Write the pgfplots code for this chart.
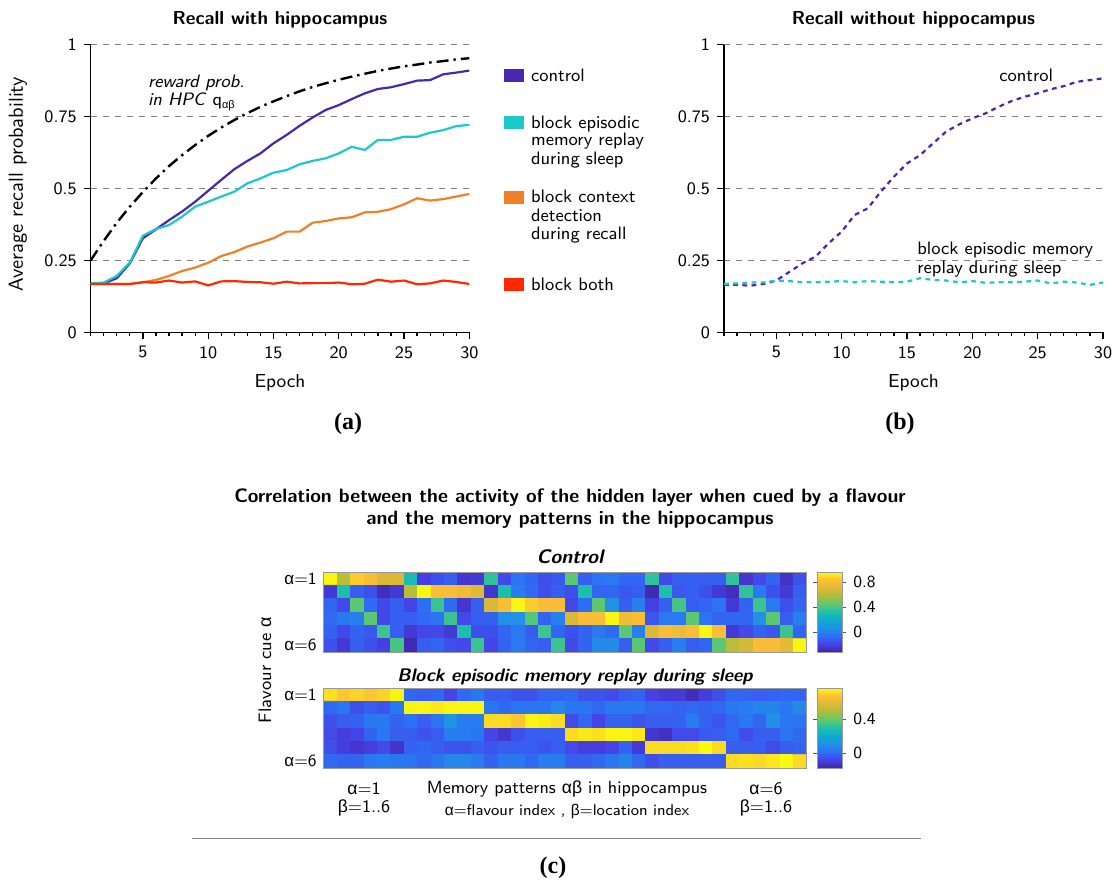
\documentclass[border=0pt]{standalone}
\usepackage{fontspec}
\usepackage{pgfplots}
\usepackage{pgfplotstable}
\pgfplotsset{compat=1.18}
\renewcommand\familydefault{\sfdefault}
\newfontfamily\grk{Liberation Sans}
\newfontfamily\serifb{Liberation Serif}
\newcommand\ga{{\grk α}}
\newcommand\gb{{\grk β}}
\newcommand\fsz[2]{\fontsize{#1}{#2}\selectfont}
\definecolor{cctrl}{RGB}{72,38,178}
\definecolor{ccyan}{RGB}{28,200,200}
\definecolor{corange}{RGB}{240,128,40}
\definecolor{cred}{RGB}{255,40,0}
\pgfplotsset{colormap={parula}{rgb255=(62,38,168) rgb255=(71,65,230) rgb255=(45,112,245) rgb255=(33,145,228) rgb255=(15,170,210) rgb255=(30,190,175) rgb255=(95,200,110) rgb255=(170,190,60) rgb255=(220,185,55) rgb255=(253,190,55) rgb255=(249,251,14)}}

\pgfplotstableread{
e ctrl rep ctx both hpc
1 0.170 0.170 0.168 0.168 0.250
2 0.170 0.173 0.168 0.168 0.318
3 0.188 0.196 0.168 0.168 0.381
4 0.240 0.243 0.168 0.168 0.437
5 0.327 0.336 0.174 0.174 0.488
6 0.358 0.359 0.182 0.173 0.535
7 0.390 0.373 0.196 0.180 0.578
8 0.420 0.402 0.213 0.173 0.616
9 0.454 0.437 0.225 0.177 0.651
10 0.492 0.454 0.242 0.163 0.683
11 0.530 0.472 0.265 0.177 0.712
12 0.567 0.489 0.279 0.178 0.738
13 0.596 0.518 0.298 0.175 0.762
14 0.622 0.535 0.312 0.174 0.784
15 0.657 0.555 0.327 0.169 0.803
16 0.686 0.564 0.350 0.176 0.821
17 0.718 0.584 0.350 0.170 0.838
18 0.747 0.596 0.381 0.171 0.853
19 0.773 0.605 0.387 0.171 0.866
20 0.790 0.622 0.396 0.173 0.878
21 0.811 0.645 0.400 0.167 0.889
22 0.831 0.634 0.417 0.169 0.899
23 0.846 0.669 0.419 0.183 0.909
24 0.852 0.669 0.428 0.176 0.917
25 0.863 0.680 0.445 0.180 0.925
26 0.875 0.680 0.466 0.167 0.931
27 0.877 0.694 0.458 0.170 0.938
28 0.897 0.703 0.463 0.180 0.943
29 0.903 0.717 0.472 0.175 0.949
30 0.910 0.721 0.481 0.168 0.953
}\dataA

\pgfplotstableread{
e ctrl rep
1 0.165 0.168
2 0.165 0.170
3 0.162 0.173
4 0.168 0.173
5 0.180 0.180
6 0.210 0.178
7 0.240 0.174
8 0.263 0.174
9 0.309 0.176
10 0.350 0.178
11 0.408 0.174
12 0.431 0.178
13 0.489 0.176
14 0.541 0.174
15 0.587 0.176
16 0.616 0.188
17 0.657 0.182
18 0.698 0.180
19 0.723 0.174
20 0.744 0.178
21 0.761 0.172
22 0.784 0.174
23 0.804 0.174
24 0.819 0.176
25 0.831 0.180
26 0.845 0.170
27 0.856 0.176
28 0.871 0.173
29 0.877 0.165
30 0.883 0.173
}\dataB

\pgfplotsset{
  linechart/.style={
    scale only axis, width=189.3pt, height=143.8pt,
    xmin=1, xmax=30, ymin=0, ymax=1,
    axis x line*=bottom, axis y line*=left,
    axis line style={line width=0.7pt},
    xtick={5,10,...,30}, minor xtick={1,...,30},
    ytick={0,0.25,0.5,0.75,1}, yticklabels={0,0.25,0.5,0.75,1},
    tick align=outside, major tick length=3.5pt, minor tick length=1.6pt,
    tick style={black, line width=0.6pt},
    ymajorgrids, grid style={gray, dashed, line width=0.4pt},
    /pgf/number format/assume math mode=true,
    tick label style={font=\fsz{8.8}{10}},
    xlabel style={font=\fsz{9.4}{11}, at={(axis description cs:0.5,-0.176)}, anchor=center},
    ylabel style={font=\fsz{10.2}{11}},
    every axis title/.style={font=\bfseries\fsz{9.4}{11}, at={(axis description cs:0.5,1.086)}, anchor=center},
  },
  heat/.style={
    scale only axis, width=241.55pt, height=40pt,
    xmin=0.5, xmax=36.5, ymin=0.5, ymax=6.5, y dir=reverse,
    xtick=\empty, ytick={1,6}, yticklabels={\ga=1,\ga=6},
    major tick length=0pt, axis line style={gray!80, line width=0.5pt},
    tick label style={font=\fsz{8.5}{10}},
    enlargelimits=false, axis on top, colormap name=parula,
    colorbar,
    colorbar shift/.style={xshift=5pt},
    colorbar style={scale only axis, width=12.5pt,
      ytick={0,0.4,0.8}, yticklabels={0,0.4,0.8},
      tick align=outside, major tick length=2pt,
      axis line style={gray!80, line width=0.5pt},
      tick style={gray!70!black},
      yticklabel style={font=\fsz{8.5}{10}}},
  },
}

\begin{document}
\begin{tikzpicture}
\useasboundingbox (0,0) rectangle (557pt,440pt);

% ---------------- panel (a)
\begin{axis}[linechart, at={(45.35pt,273.85pt)}, anchor=south west,
  title={Recall with hippocampus}, xlabel={Epoch}, ylabel={Average recall probability},
  ylabel style={at={(axis description cs:-0.192,0.515)}, anchor=center}]
\addplot[black, line width=1.2pt, dash pattern=on 6pt off 2.5pt on 1.2pt off 2.5pt] table[x=e,y=hpc] {\dataA};
\addplot[cctrl, line width=1.1pt] table[x=e,y=ctrl] {\dataA};
\addplot[ccyan, line width=1.1pt] table[x=e,y=rep] {\dataA};
\addplot[corange, line width=1.1pt] table[x=e,y=ctx] {\dataA};
\addplot[cred, line width=1.1pt] table[x=e,y=both] {\dataA};
\end{axis}

\node[anchor=base west, font=\itshape\fsz{9}{10}] at (70.5pt,396pt) {reward prob.};
\node[anchor=base west, font=\fsz{9}{10}] at (70.5pt,387pt) {\textit{in HPC} q\raisebox{-1.5pt}{\fsz{5.5}{6}\ga\gb}};

% legend
\fill[cctrl] (252pt,399pt) rectangle (262pt,405.35pt);
\fill[ccyan] (252pt,375.35pt) rectangle (262pt,382pt);
\fill[corange] (252pt,338pt) rectangle (262pt,344.65pt);
\fill[cred] (252pt,294.65pt) rectangle (262pt,301pt);
\begin{scope}[every node/.style={anchor=base west, font=\fsz{9}{10}, inner sep=0pt}]
\node at (265.35pt,399.15pt) {control};
\node at (265.35pt,375.65pt) {block episodic};
\node at (265.35pt,367pt) {memory replay};
\node at (265.35pt,357.85pt) {during sleep};
\node at (265.35pt,338.65pt) {block context};
\node at (265.35pt,329.15pt) {detection};
\node at (265.35pt,320.35pt) {during recall};
\node at (265.35pt,294.5pt) {block both};
\end{scope}

\node[font=\serifb\bfseries\fsz{12}{14}] at (174pt,228pt) {(a)};

% ---------------- panel (b)
\begin{axis}[linechart, at={(362pt,273.85pt)}, anchor=south west, width=189.5pt,
  title={Recall without hippocampus}, xlabel={Epoch}]
\addplot[cctrl, line width=1.1pt, dash pattern=on 2.4pt off 2.2pt] table[x=e,y=ctrl] {\dataB};
\addplot[ccyan, line width=1.1pt, dash pattern=on 2.4pt off 2.2pt] table[x=e,y=rep] {\dataB};
\end{axis}
\begin{scope}[every node/.style={anchor=base west, font=\fsz{9}{10}, inner sep=0pt}]
\node at (499.5pt,399pt) {control};
\node at (458.5pt,312.5pt) {block episodic memory};
\node at (458.5pt,303pt) {replay during sleep};
\end{scope}
\node[font=\serifb\bfseries\fsz{12}{14}] at (450pt,228pt) {(b)};

% ---------------- panel (c)
\node[font=\bfseries\fsz{9.7}{11}, align=center] at (285pt,185.5pt)
  {Correlation between the activity of the hidden layer when cued by a flavour\\and the memory patterns in the hippocampus};
\node[font=\bfseries\itshape\fsz{9.8}{10}] at (285pt,161.5pt) {Control};
\node[font=\bfseries\itshape\fsz{9.1}{10}] at (287.5pt,101.5pt) {Block episodic memory replay during sleep};

\begin{axis}[heat, at={(161.85pt,154pt)}, anchor=north west,
  point meta min=-0.32, point meta max=0.96]
\addplot[matrix plot*, mesh/cols=36, point meta=explicit] coordinates {
(1,1)[0.95] (2,1)[0.62] (3,1)[0.86] (4,1)[0.82] (5,1)[0.70] (6,1)[0.70] (7,1)[0.30] (8,1)[-0.20] (9,1)[-0.15] (10,1)[-0.11] (11,1)[-0.24] (12,1)[-0.23] (13,1)[0.36] (14,1)[-0.17] (15,1)[-0.05] (16,1)[-0.09] (17,1)[-0.15] (18,1)[-0.13] (19,1)[0.44] (20,1)[-0.11] (21,1)[-0.05] (22,1)[-0.03] (23,1)[-0.09] (24,1)[-0.09] (25,1)[0.36] (26,1)[-0.17] (27,1)[-0.11] (28,1)[-0.11] (29,1)[-0.11] (30,1)[-0.11] (31,1)[0.36] (32,1)[-0.24] (33,1)[-0.17] (34,1)[-0.10] (35,1)[-0.26] (36,1)[-0.15]
(1,2)[-0.23] (2,2)[0.32] (3,2)[-0.11] (4,2)[-0.15] (5,2)[-0.28] (6,2)[-0.23] (7,2)[0.62] (8,2)[0.95] (9,2)[0.82] (10,2)[0.82] (11,2)[0.78] (12,2)[0.72] (13,2)[-0.24] (14,2)[0.32] (15,2)[-0.01] (16,2)[-0.08] (17,2)[-0.15] (18,2)[-0.11] (19,2)[-0.15] (20,2)[0.32] (21,2)[-0.09] (22,2)[-0.09] (23,2)[-0.13] (24,2)[-0.11] (25,2)[-0.30] (26,2)[0.32] (27,2)[-0.13] (28,2)[-0.11] (29,2)[-0.15] (30,2)[-0.23] (31,2)[-0.28] (32,2)[0.36] (33,2)[-0.03] (34,2)[-0.15] (35,2)[-0.23] (36,2)[-0.11]
(1,3)[-0.09] (2,3)[-0.17] (3,3)[0.44] (4,3)[-0.08] (5,3)[-0.17] (6,3)[-0.11] (7,3)[-0.18] (8,3)[-0.07] (9,3)[0.38] (10,3)[-0.08] (11,3)[-0.24] (12,3)[-0.11] (13,3)[0.70] (14,3)[0.82] (15,3)[0.95] (16,3)[0.86] (17,3)[0.82] (18,3)[0.82] (19,3)[-0.17] (20,3)[-0.07] (21,3)[0.44] (22,3)[0.06] (23,3)[-0.11] (24,3)[0.00] (25,3)[-0.20] (26,3)[-0.11] (27,3)[0.40] (28,3)[-0.11] (29,3)[-0.09] (30,3)[-0.05] (31,3)[-0.23] (32,3)[-0.10] (33,3)[0.38] (34,3)[-0.03] (35,3)[-0.15] (36,3)[-0.09]
(1,4)[-0.08] (2,4)[-0.03] (3,4)[-0.01] (4,4)[0.44] (5,4)[-0.17] (6,4)[-0.11] (7,4)[-0.11] (8,4)[-0.08] (9,4)[-0.05] (10,4)[0.38] (11,4)[-0.17] (12,4)[-0.11] (13,4)[-0.11] (14,4)[0.06] (15,4)[0.06] (16,4)[0.42] (17,4)[-0.10] (18,4)[0.00] (19,4)[0.70] (20,4)[0.82] (21,4)[0.82] (22,4)[0.95] (23,4)[0.78] (24,4)[0.82] (25,4)[-0.13] (26,4)[-0.03] (27,4)[-0.03] (28,4)[0.44] (29,4)[-0.05] (30,4)[-0.09] (31,4)[-0.09] (32,4)[-0.09] (33,4)[0.06] (34,4)[0.44] (35,4)[-0.11] (36,4)[-0.01]
(1,5)[-0.11] (2,5)[-0.17] (3,5)[-0.10] (4,5)[-0.13] (5,5)[0.38] (6,5)[-0.11] (7,5)[-0.23] (8,5)[-0.18] (9,5)[-0.17] (10,5)[-0.23] (11,5)[0.32] (12,5)[-0.15] (13,5)[-0.15] (14,5)[-0.09] (15,5)[-0.03] (16,5)[-0.11] (17,5)[0.38] (18,5)[-0.09] (19,5)[-0.15] (20,5)[-0.10] (21,5)[-0.03] (22,5)[-0.08] (23,5)[0.44] (24,5)[-0.01] (25,5)[0.70] (26,5)[0.82] (27,5)[0.78] (28,5)[0.82] (29,5)[0.95] (30,5)[0.82] (31,5)[-0.23] (32,5)[-0.17] (33,5)[-0.10] (34,5)[-0.13] (35,5)[0.38] (36,5)[-0.09]
(1,6)[-0.15] (2,6)[-0.23] (3,6)[-0.11] (4,6)[-0.15] (5,6)[-0.20] (6,6)[0.40] (7,6)[-0.30] (8,6)[-0.11] (9,6)[-0.09] (10,6)[-0.15] (11,6)[-0.17] (12,6)[0.38] (13,6)[-0.18] (14,6)[-0.10] (15,6)[-0.03] (16,6)[-0.09] (17,6)[-0.11] (18,6)[0.38] (19,6)[-0.17] (20,6)[-0.10] (21,6)[0.04] (22,6)[0.04] (23,6)[-0.11] (24,6)[0.44] (25,6)[-0.17] (26,6)[-0.11] (27,6)[-0.01] (28,6)[-0.11] (29,6)[-0.09] (30,6)[0.44] (31,6)[0.62] (32,6)[0.68] (33,6)[0.82] (34,6)[0.82] (35,6)[0.74] (36,6)[0.95]
};
\end{axis}

\begin{axis}[heat, at={(161.85pt,96pt)}, anchor=north west,
  point meta min=-0.17, point meta max=0.76,
  colorbar style={ytick={0,0.4}, yticklabels={0,0.4}}]
\addplot[matrix plot*, mesh/cols=36, point meta=explicit] coordinates {
(1,1)[0.72] (2,1)[0.68] (3,1)[0.70] (4,1)[0.68] (5,1)[0.70] (6,1)[0.75] (7,1)[0.00] (8,1)[-0.02] (9,1)[0.00] (10,1)[-0.07] (11,1)[0.00] (12,1)[0.04] (13,1)[-0.02] (14,1)[-0.02] (15,1)[-0.04] (16,1)[-0.04] (17,1)[-0.01] (18,1)[-0.01] (19,1)[0.00] (20,1)[-0.04] (21,1)[-0.04] (22,1)[-0.06] (23,1)[-0.02] (24,1)[-0.01] (25,1)[-0.08] (26,1)[-0.10] (27,1)[-0.10] (28,1)[-0.14] (29,1)[-0.09] (30,1)[-0.05] (31,1)[0.00] (32,1)[-0.01] (33,1)[-0.02] (34,1)[-0.01] (35,1)[0.00] (36,1)[-0.01]
(1,2)[0.00] (2,2)[0.03] (3,2)[-0.05] (4,2)[-0.02] (5,2)[-0.04] (6,2)[0.04] (7,2)[0.75] (8,2)[0.75] (9,2)[0.73] (10,2)[0.75] (11,2)[0.75] (12,2)[0.75] (13,2)[0.03] (14,2)[0.00] (15,2)[0.03] (16,2)[0.03] (17,2)[0.03] (18,2)[0.08] (19,2)[0.03] (20,2)[0.03] (21,2)[0.00] (22,2)[0.04] (23,2)[0.04] (24,2)[0.04] (25,2)[0.00] (26,2)[0.00] (27,2)[-0.01] (28,2)[0.00] (29,2)[-0.01] (30,2)[0.00] (31,2)[0.04] (32,2)[0.05] (33,2)[0.07] (34,2)[0.07] (35,2)[0.04] (36,2)[0.09]
(1,3)[-0.05] (2,3)[-0.02] (3,3)[-0.01] (4,3)[0.04] (5,3)[0.04] (6,3)[-0.01] (7,3)[0.02] (8,3)[-0.02] (9,3)[0.03] (10,3)[0.12] (11,3)[0.05] (12,3)[0.05] (13,3)[0.71] (14,3)[0.71] (15,3)[0.68] (16,3)[0.75] (17,3)[0.74] (18,3)[0.71] (19,3)[-0.06] (20,3)[0.00] (21,3)[-0.07] (22,3)[-0.01] (23,3)[-0.01] (24,3)[-0.04] (25,3)[-0.02] (26,3)[-0.02] (27,3)[-0.01] (28,3)[0.05] (29,3)[-0.01] (30,3)[-0.04] (31,3)[0.00] (32,3)[0.04] (33,3)[0.00] (34,3)[0.10] (35,3)[0.04] (36,3)[0.03]
(1,4)[-0.06] (2,4)[-0.09] (3,4)[-0.07] (4,4)[-0.01] (5,4)[0.04] (6,4)[-0.02] (7,4)[-0.02] (8,4)[-0.04] (9,4)[-0.02] (10,4)[0.05] (11,4)[0.05] (12,4)[0.03] (13,4)[-0.07] (14,4)[-0.11] (15,4)[-0.05] (16,4)[-0.02] (17,4)[-0.02] (18,4)[-0.02] (19,4)[0.71] (20,4)[0.73] (21,4)[0.72] (22,4)[0.75] (23,4)[0.75] (24,4)[0.73] (25,4)[-0.11] (26,4)[-0.13] (27,4)[-0.06] (28,4)[-0.06] (29,4)[-0.03] (30,4)[-0.02] (31,4)[0.00] (32,4)[-0.06] (33,4)[-0.02] (34,4)[-0.02] (35,4)[0.03] (36,4)[0.00]
(1,5)[-0.05] (2,5)[-0.09] (3,5)[-0.11] (4,5)[-0.09] (5,5)[-0.06] (6,5)[-0.12] (7,5)[-0.01] (8,5)[0.00] (9,5)[-0.02] (10,5)[-0.04] (11,5)[-0.04] (12,5)[-0.02] (13,5)[-0.04] (14,5)[-0.02] (15,5)[-0.02] (16,5)[-0.02] (17,5)[-0.04] (18,5)[-0.02] (19,5)[-0.06] (20,5)[-0.09] (21,5)[-0.09] (22,5)[-0.07] (23,5)[-0.01] (24,5)[-0.10] (25,5)[0.71] (26,5)[0.71] (27,5)[0.71] (28,5)[0.72] (29,5)[0.76] (30,5)[0.71] (31,5)[-0.02] (32,5)[-0.02] (33,5)[-0.02] (34,5)[-0.06] (35,5)[-0.02] (36,5)[-0.01]
(1,6)[0.00] (2,6)[-0.01] (3,6)[-0.01] (4,6)[0.04] (5,6)[0.05] (6,6)[0.04] (7,6)[0.03] (8,6)[0.00] (9,6)[0.04] (10,6)[0.08] (11,6)[0.08] (12,6)[0.05] (13,6)[-0.01] (14,6)[0.04] (15,6)[0.04] (16,6)[0.00] (17,6)[0.05] (18,6)[0.05] (19,6)[-0.02] (20,6)[-0.02] (21,6)[0.00] (22,6)[0.04] (23,6)[0.07] (24,6)[0.00] (25,6)[-0.05] (26,6)[-0.02] (27,6)[-0.02] (28,6)[-0.02] (29,6)[-0.02] (30,6)[-0.02] (31,6)[0.71] (32,6)[0.72] (33,6)[0.71] (34,6)[0.73] (35,6)[0.76] (36,6)[0.71]
};
\end{axis}

\node[rotate=90, font=\fsz{9}{10}] at (132.5pt,105pt) {Flavour cue \ga};
\begin{scope}[every node/.style={font=\fsz{8.8}{10}, inner sep=0pt}]
\node at (182pt,45.5pt) {\ga=1};
\node at (182pt,36pt) {\gb=1..6};
\node at (383pt,45.5pt) {\ga=6};
\node at (383pt,36pt) {\gb=1..6};
\node at (283.5pt,45.5pt) {Memory patterns \ga\gb\ in hippocampus};
\node[font=\fsz{7.8}{9}] at (283.5pt,34.5pt) {\ga=flavour index , \gb=location index};
\end{scope}
\draw[gray, line width=0.5pt] (96pt,21pt) -- (460.5pt,21pt);
\node[font=\serifb\bfseries\fsz{12}{14}] at (276.5pt,6pt) {(c)};
\end{tikzpicture}
\end{document}
